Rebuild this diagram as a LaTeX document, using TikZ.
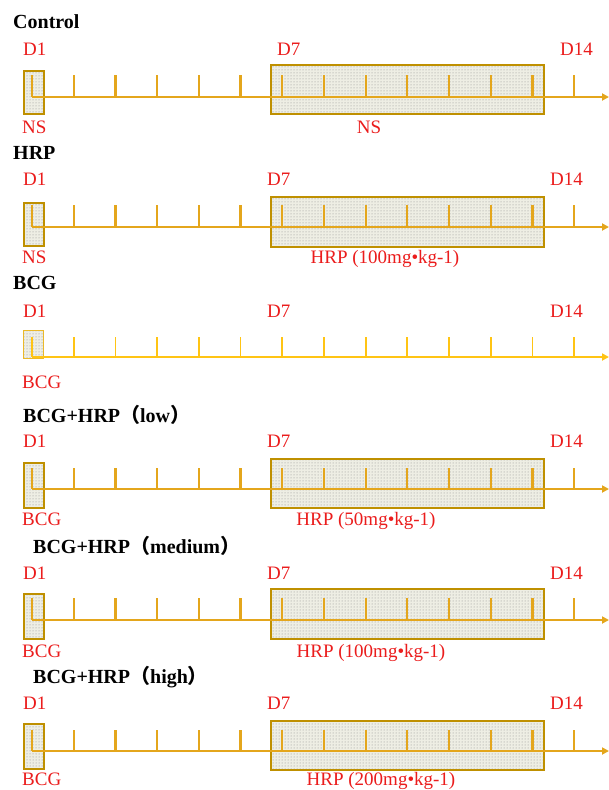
\documentclass[tikz,border=0pt]{standalone}
\usepackage{fontspec}
\setmainfont{Liberation Serif}
\newfontfamily\cjk{Noto Sans CJK SC}
\usetikzlibrary{patterns,arrows.meta}
\definecolor{axc}{RGB}{228,166,28}
\definecolor{axl}{RGB}{255,196,20}
\definecolor{bxc}{RGB}{191,144,0}
\definecolor{bxf}{RGB}{238,238,228}
\definecolor{lbl}{RGB}{235,28,28}
\tikzset{
 lab/.style={text=lbl, font=\fontsize{19}{21}\selectfont, inner sep=0pt},
 ttl/.style={text=black, font=\fontsize{20}{22}\selectfont\bfseries, inner sep=0pt, anchor=base west},
 dbox/.style={draw=bxc, line width=1.5pt, preaction={fill=bxf}, pattern=dots, pattern color=black!45, inner sep=0pt, anchor=north west},
 axisln/.style={draw=axc, line width=2.2pt},
 axislt/.style={draw=axl, line width=1.8pt},
}
\newcommand\tlrow[4]{%
  \coordinate (#1a) at (32,#2);
  \coordinate (#1e) at (609,#2);
  \draw[#4,-{Triangle[length=7pt,width=7pt]}] (#1a) -- (#1e);
  \foreach \k in {0,...,13} {
    \coordinate (#1t\k) at ({32+41.7*\k},#3);
    \draw[#4] (#1t\k) -- (#1t\k |- #1a);
  }
}
\begin{document}
\begin{tikzpicture}[x=1pt,y=-1pt]
\useasboundingbox[fill=white] (0,0) rectangle (609,790);

% ---------- Control ----------
\node[ttl] (t1) at (13,28) {Control};
\node[lab,anchor=base west] (p1d1) at (23,55) {D1};
\node[lab,anchor=base west] (p1d7) at (277,55) {D7};
\node[lab,anchor=base west] (p1d14) at (560,55) {D14};
\node[dbox,minimum width=20pt,minimum height=43pt] (p1s) at (23,70) {};
\node[dbox,minimum width=273pt,minimum height=49pt] (p1b) at (270,64) {};
\tlrow{p1}{97}{75}{axisln}
\node[lab,anchor=base west] (p1l1) at (22,133) {NS};
\node[lab,anchor=base] (p1l2) at (369,133) {NS};

% ---------- HRP ----------
\node[ttl] (t2) at (13,159) {HRP};
\node[lab,anchor=base west] (p2d1) at (23,185) {D1};
\node[lab,anchor=base west] (p2d7) at (267,185) {D7};
\node[lab,anchor=base west] (p2d14) at (550,185) {D14};
\node[dbox,minimum width=20pt,minimum height=43pt] (p2s) at (23,202) {};
\node[dbox,minimum width=273pt,minimum height=50pt] (p2b) at (270,196) {};
\tlrow{p2}{227}{205}{axisln}
\node[lab,anchor=base west] (p2l1) at (22,263) {NS};
\node[lab,anchor=base] (p2l2) at (385,263) {HRP (100mg•kg-1)};

% ---------- BCG ----------
\node[ttl] (t3) at (13,289) {BCG};
\node[lab,anchor=base west] (p3d1) at (23,317) {D1};
\node[lab,anchor=base west] (p3d7) at (267,317) {D7};
\node[lab,anchor=base west] (p3d14) at (550,317) {D14};
\node[dbox,draw={rgb,255:red,235;green,185;blue,40},line width=1.3pt,minimum width=20pt,minimum height=28pt] (p3s) at (23,330) {};
\tlrow{p3}{357}{337}{axislt}
\node[lab,anchor=base west] (p3l1) at (22,388) {BCG};

% ---------- BCG+HRP (low) ----------
\node[ttl] (t4) at (23,422) {BCG+HRP{\cjk （}low{\cjk ）}};
\node[lab,anchor=base west] (p4d1) at (23,447) {D1};
\node[lab,anchor=base west] (p4d7) at (267,447) {D7};
\node[lab,anchor=base west] (p4d14) at (550,447) {D14};
\node[dbox,minimum width=20pt,minimum height=45pt] (p4s) at (23,462) {};
\node[dbox,minimum width=273pt,minimum height=49pt] (p4b) at (270,458) {};
\tlrow{p4}{489}{468}{axisln}
\node[lab,anchor=base west] (p4l1) at (22,525) {BCG};
\node[lab,anchor=base] (p4l2) at (366,525) {HRP (50mg•kg-1)};

% ---------- BCG+HRP (medium) ----------
\node[ttl] (t5) at (33,553) {BCG+HRP{\cjk （}medium{\cjk ）}};
\node[lab,anchor=base west] (p5d1) at (23,579) {D1};
\node[lab,anchor=base west] (p5d7) at (267,579) {D7};
\node[lab,anchor=base west] (p5d14) at (550,579) {D14};
\node[dbox,minimum width=20pt,minimum height=45pt] (p5s) at (23,593) {};
\node[dbox,minimum width=273pt,minimum height=50pt] (p5b) at (270,588) {};
\tlrow{p5}{620}{598}{axisln}
\node[lab,anchor=base west] (p5l1) at (22,657) {BCG};
\node[lab,anchor=base] (p5l2) at (371,657) {HRP (100mg•kg-1)};

% ---------- BCG+HRP (high) ----------
\node[ttl] (t6) at (33,683) {BCG+HRP{\cjk （}high{\cjk ）}};
\node[lab,anchor=base west] (p6d1) at (23,709) {D1};
\node[lab,anchor=base west] (p6d7) at (267,709) {D7};
\node[lab,anchor=base west] (p6d14) at (550,709) {D14};
\node[dbox,minimum width=20pt,minimum height=45pt] (p6s) at (23,723) {};
\node[dbox,minimum width=273pt,minimum height=49pt] (p6b) at (270,720) {};
\tlrow{p6}{751}{730}{axisln}
\node[lab,anchor=base west] (p6l1) at (22,785) {BCG};
\node[lab,anchor=base] (p6l2) at (381,785) {HRP (200mg•kg-1)};
\end{tikzpicture}
\end{document}
